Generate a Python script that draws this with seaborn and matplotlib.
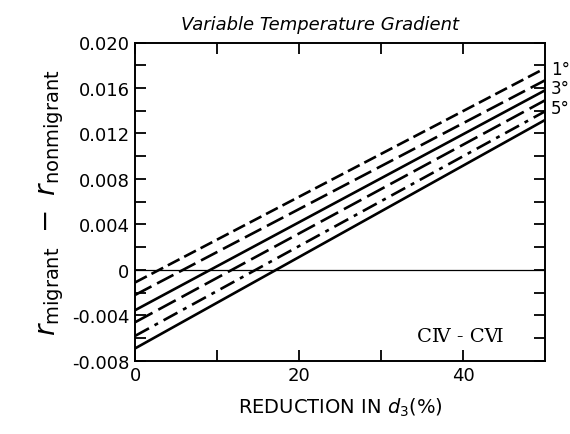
import matplotlib
matplotlib.use("Agg")
import matplotlib.pyplot as plt
import pandas as pd
import seaborn as sns

# Data: each gradient curve is a straight line,
# given by its value at 0 % and at 50 % reduction in d3
gradients = ["1°", "2°", "3°", "4°", "5°", "6°"]
x_ends = [0, 50]
y_start = [-0.0011, -0.0022, -0.00354, -0.0046, -0.0058, -0.0069]
y_end = [0.01773, 0.01667, 0.01579, 0.01491, 0.01394, 0.01318]
labelled = ["1°", "3°", "5°"]
label_y = [0.01764, 0.01601, 0.01425]

yticks = [-0.008, -0.004, 0, 0.004, 0.008, 0.012, 0.016, 0.020]
ytick_labels = ["-0.008", "-0.004", "0", "0.004", "0.008", "0.012", "0.016", "0.020"]
xticks = [0, 20, 40]

rows = []
for g, y0, y1 in zip(gradients, y_start, y_end):
    rows.append({"grad": g, "x": x_ends[0], "y": y0})
    rows.append({"grad": g, "x": x_ends[1], "y": y1})
df = pd.DataFrame(rows)

sns.set_theme(style="ticks")
plt.rcParams["font.family"] = ["DejaVu Sans"]
plt.rcParams["text.color"] = "black"
plt.rcParams["axes.labelcolor"] = "black"

fig = plt.figure(figsize=(5.7, 4.35), dpi=100)
ax = fig.add_axes([0.237, 0.168, 0.719, 0.732])

dash_styles = {
    "1°": (5, 2),
    "2°": (7, 2.4),
    "3°": "",
    "4°": (7.5, 2.5),
    "5°": (6, 2.4, 1.5, 2.4),
    "6°": "",
}

sns.lineplot(
    data=df,
    x="x",
    y="y",
    style="grad",
    dashes=dash_styles,
    color="black",
    linewidth=1.9,
    legend=False,
    ax=ax
)

ax.axhline(0, color="black", linewidth=0.9)

ax.set_xlim(0, 50)
ax.set_ylim(-0.008, 0.020)
ax.set_xticks(xticks)
ax.set_xticks([10, 30], minor=True)
ax.set_yticks(yticks)
ax.set_yticklabels(ytick_labels)
ax.set_yticks([-0.006, -0.002, 0.002, 0.006, 0.010, 0.014, 0.018], minor=True)
ax.tick_params(which="both", direction="in", length=8, width=1.3,
               top=True, right=True, labelsize=13, colors="black", pad=4)

for s in ax.spines.values():
    s.set_linewidth(1.4)
    s.set_color("black")

for lab, ly in zip(labelled, label_y):
    ax.text(50.7, ly, lab, fontsize=12, va="center", ha="left", clip_on=False)

ax.text(34.4, -0.0058, "C\u2163 - C\u2165", fontsize=14, family=["DejaVu Serif"],
        va="center", ha="left")

ax.set_title("Variable Temperature Gradient", fontsize=13, style="italic", pad=10, x=0.45)
ax.set_xlabel(r"REDUCTION IN $d_3$(%)", fontsize=14, labelpad=8)
ax.set_ylabel(r"$r_{\mathrm{migrant}}\ -\ r_{\mathrm{nonmigrant}}$", fontsize=20, labelpad=4)

fig.savefig("out.png", dpi=100)
